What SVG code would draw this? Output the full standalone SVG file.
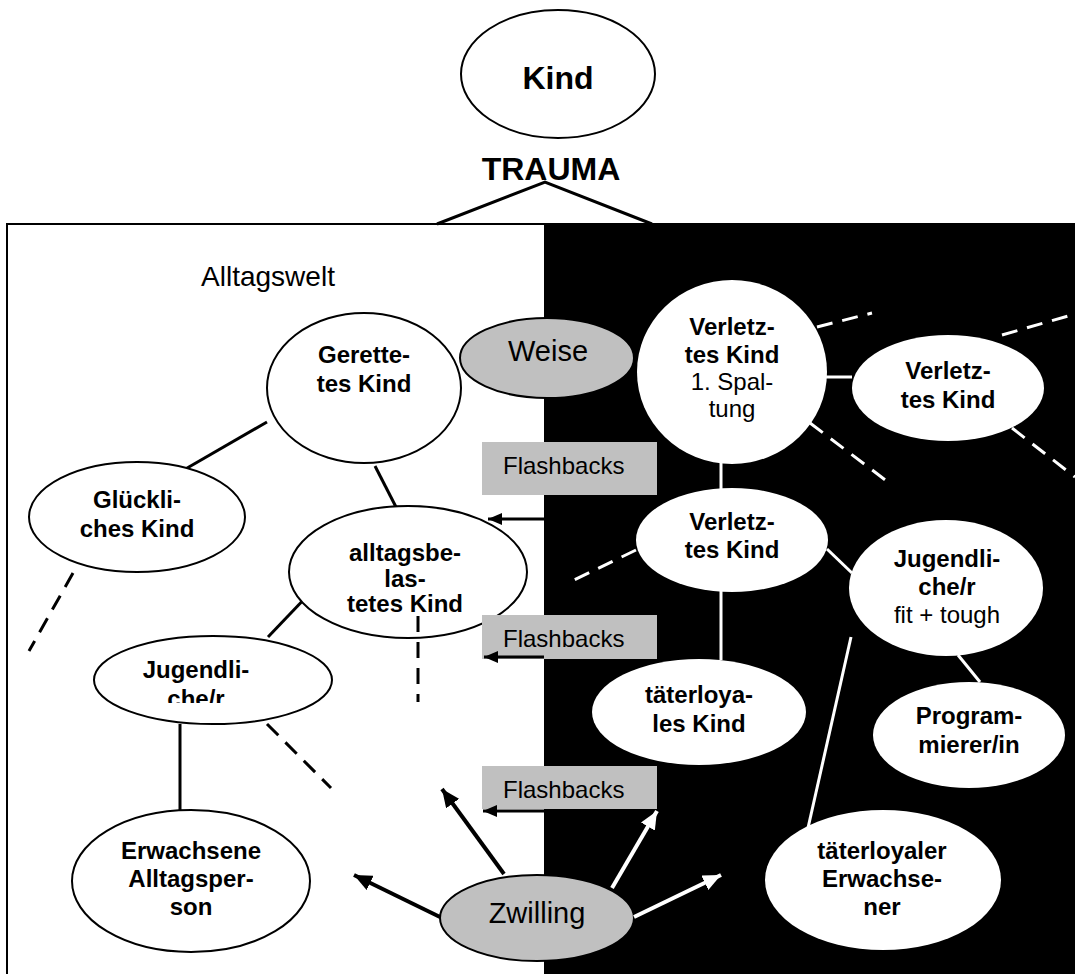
<svg xmlns="http://www.w3.org/2000/svg" width="1075" height="974" viewBox="0 0 1075 974">
<style>
.b{font-family:"Liberation Sans",Arial,sans-serif;font-weight:bold;font-size:24px;text-anchor:middle;fill:#000}
.n{font-family:"Liberation Sans",Arial,sans-serif;font-size:24px;text-anchor:middle;fill:#000}
.wn{fill:#fff;stroke:#000;stroke-width:2}
.bn{fill:#fff;stroke:none}
.gn{fill:#c0c0c0;stroke:#000;stroke-width:2}
.box{fill:#c0c0c0}
.lk{stroke:#000;stroke-width:3;fill:none}
.lw{stroke:#fff;stroke-width:3;fill:none}
.dk{stroke:#000;stroke-width:3;fill:none;stroke-dasharray:16 10}
.dw{stroke:#fff;stroke-width:3;fill:none;stroke-dasharray:16 10}
</style>
<defs>
<marker id="ak" markerUnits="userSpaceOnUse" markerWidth="14" markerHeight="12" refX="14" refY="6" orient="auto"><path d="M0,0 L14,6 L0,12 z" fill="#000"/></marker>
<marker id="bk" markerUnits="userSpaceOnUse" markerWidth="18" markerHeight="16" refX="18" refY="8" orient="auto"><path d="M0,0 L18,8 L0,16 z" fill="#000"/></marker>
<marker id="bw" markerUnits="userSpaceOnUse" markerWidth="18" markerHeight="16" refX="18" refY="8" orient="auto"><path d="M0,0 L18,8 L0,16 z" fill="#fff"/></marker>
<clipPath id="cj"><rect x="0" y="0" width="1075" height="703"/></clipPath>
</defs>

<g id="background">
<rect x="7" y="224" width="1080" height="760" fill="#fff" stroke="#000" stroke-width="2"/>
<rect x="544" y="224" width="531" height="750" fill="#000"/>
</g>

<g id="kind">
<ellipse class="wn" cx="558" cy="74" rx="97" ry="64"/>
<text class="b" x="558" y="89" style="font-size:32px">Kind</text>
</g>
<g id="trauma">
<text class="b" x="551" y="180" style="font-size:32px">TRAUMA</text>
<polyline class="lk" points="437,224 545,182 652,224"/>
</g>
<g id="alltagswelt">
<text class="n" x="268" y="286" style="font-size:28px">Alltagswelt</text>
</g>

<g id="connectors">
<line class="lk" x1="267" y1="422" x2="182" y2="471"/>
<line class="lk" x1="375" y1="466" x2="396" y2="507"/>
<line class="lk" x1="310" y1="593" x2="268" y2="637"/>
<line class="lk" x1="180" y1="724" x2="180" y2="810"/>
<line class="dk" x1="73" y1="573" x2="29" y2="651"/>
<line class="dk" x1="418" y1="616" x2="418" y2="702"/>
<line class="dk" x1="267" y1="724" x2="331" y2="788"/>
<line class="lw" x1="826" y1="377" x2="852" y2="377"/>
<line class="lw" x1="721" y1="463" x2="721" y2="489"/>
<line class="lw" x1="827" y1="549" x2="852" y2="573"/>
<line class="lw" x1="721" y1="591" x2="721" y2="660"/>
<line class="lw" x1="958" y1="655" x2="980" y2="682"/>
<line class="lw" x1="851" y1="637" x2="808" y2="828"/>
<line class="dw" x1="817" y1="327" x2="872" y2="313"/>
<line class="dw" x1="1002" y1="335" x2="1075" y2="314"/>
<line class="dw" x1="810" y1="423" x2="888" y2="482"/>
<line class="dw" x1="1012" y1="428" x2="1075" y2="477"/>
<line class="dw" x1="636" y1="550" x2="570" y2="582"/>
</g>

<g id="gerettetes-kind">
<ellipse class="wn" cx="364" cy="388" rx="97" ry="75"/>
<text class="b" x="364" y="363">Gerette-</text>
<text class="b" x="364" y="392">tes Kind</text>
</g>
<g id="gluckliches-kind">
<ellipse class="wn" cx="137" cy="517" rx="108" ry="55"/>
<text class="b" x="137" y="508">Glückli-</text>
<text class="b" x="137" y="537">ches Kind</text>
</g>
<g id="alltagsbelastetes-kind">
<ellipse class="wn" cx="408" cy="572" rx="119" ry="66"/>
<text class="b" x="405" y="561">alltagsbe-</text>
<text class="b" x="405" y="587">las-</text>
<text class="b" x="405" y="612">tetes Kind</text>
</g>
<line class="dk" x1="418" y1="616" x2="418" y2="640"/>
<g id="jugendliche-links">
<ellipse class="wn" cx="213" cy="680" rx="119" ry="44"/>
<text class="b" x="196" y="678">Jugendli-</text>
<text class="b" x="196" y="707" clip-path="url(#cj)">che/r</text>
</g>
<g id="erwachsene-alltagsperson">
<ellipse class="wn" cx="191" cy="881" rx="119" ry="71"/>
<text class="b" x="191" y="859">Erwachsene</text>
<text class="b" x="191" y="887">Alltagsper-</text>
<text class="b" x="191" y="915">son</text>
</g>

<g id="weise">
<ellipse class="gn" cx="547" cy="358" rx="87" ry="40"/>
<text class="n" x="548" y="361" style="font-size:29px">Weise</text>
</g>

<g id="verletztes-kind-spaltung">
<ellipse class="bn" cx="732" cy="372" rx="95" ry="92"/>
<text class="b" x="732" y="335">Verletz-</text>
<text class="b" x="732" y="363">tes Kind</text>
<text class="n" x="732" y="390">1. Spal-</text>
<text class="n" x="732" y="417">tung</text>
</g>
<g id="verletztes-kind-rechts">
<ellipse class="bn" cx="948" cy="388" rx="96" ry="53"/>
<text class="b" x="948" y="379">Verletz-</text>
<text class="b" x="948" y="408">tes Kind</text>
</g>
<g id="verletztes-kind-mitte">
<ellipse class="bn" cx="732" cy="540" rx="96" ry="52"/>
<text class="b" x="732" y="530">Verletz-</text>
<text class="b" x="732" y="558">tes Kind</text>
</g>
<g id="jugendliche-rechts">
<ellipse class="bn" cx="946" cy="588" rx="97" ry="68"/>
<text class="b" x="947" y="567">Jugendli-</text>
<text class="b" x="947" y="595">che/r</text>
<text class="n" x="947" y="623">fit + tough</text>
</g>
<g id="programmierer">
<ellipse class="bn" cx="969" cy="735" rx="96" ry="53"/>
<text class="b" x="969" y="724">Program-</text>
<text class="b" x="969" y="753">mierer/in</text>
</g>
<g id="taeterloyales-kind">
<ellipse class="bn" cx="699" cy="712" rx="107" ry="53"/>
<text class="b" x="699" y="703">täterloya-</text>
<text class="b" x="699" y="732">les Kind</text>
</g>
<g id="taeterloyaler-erwachsener">
<ellipse class="bn" cx="883" cy="880" rx="118" ry="70"/>
<text class="b" x="882" y="859">täterloyaler</text>
<text class="b" x="882" y="887">Erwachse-</text>
<text class="b" x="882" y="915">ner</text>
</g>

<g id="flashbacks-1">
<rect class="box" x="482" y="442" width="175" height="53"/>
<text class="n" x="503" y="474" style="text-anchor:start">Flashbacks</text>
</g>
<g id="flashbacks-2">
<rect class="box" x="482" y="615" width="175" height="44"/>
<text class="n" x="503" y="647" style="text-anchor:start">Flashbacks</text>
</g>
<g id="flashbacks-3">
<rect class="box" x="482" y="766" width="175" height="43"/>
<text class="n" x="503" y="798" style="text-anchor:start">Flashbacks</text>
</g>

<g id="zwilling">
<ellipse class="gn" cx="537" cy="918" rx="97" ry="43"/>
<text class="n" x="537" y="923" style="font-size:29px">Zwilling</text>
</g>

<g id="arrows">
<line class="lk" x1="544" y1="519" x2="488" y2="519" marker-end="url(#ak)"/>
<line class="lk" x1="544" y1="657" x2="484" y2="657" marker-end="url(#ak)"/>
<line class="lk" x1="544" y1="811" x2="483" y2="811" marker-end="url(#ak)"/>
<line class="lk" style="stroke-width:4" x1="504" y1="874" x2="442" y2="789" marker-end="url(#bk)"/>
<line class="lk" style="stroke-width:4" x1="440" y1="917" x2="354" y2="875" marker-end="url(#bk)"/>
<line class="lw" style="stroke-width:4" x1="612" y1="888" x2="657" y2="811" marker-end="url(#bw)"/>
<line class="lw" style="stroke-width:4" x1="634" y1="917" x2="721" y2="875" marker-end="url(#bw)"/>
</g>
</svg>
